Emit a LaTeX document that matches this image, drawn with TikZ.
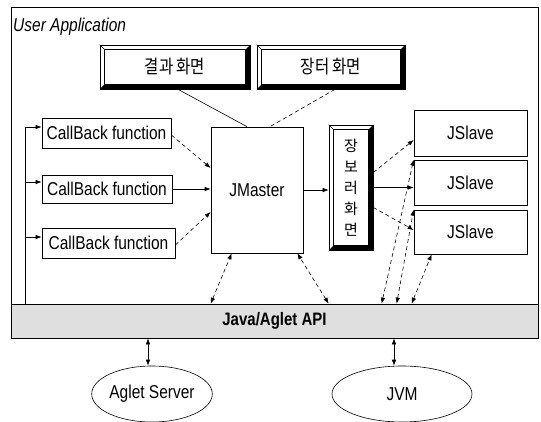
\documentclass[tikz,border=0pt]{standalone}
\usepackage{fontspec}
\setmainfont{Liberation Sans}
\newfontfamily\kr{Noto Sans CJK KR}
\usepackage{graphicx}
\usetikzlibrary{arrows.meta,shapes.geometric}
\newcommand\st[1]{\scalebox{1}[1.2]{#1}}
\newcommand\bevelbox[1]{%
  \fill (#1.south west) -- (#1.south east) -- (#1.north east)
    -- ([xshift=-5pt,yshift=-5pt]#1.north east)
    -- ([xshift=-5pt,yshift=5pt]#1.south east)
    -- ([xshift=5pt,yshift=5pt]#1.south west) -- cycle;
  \draw[line width=0.6pt] ([xshift=5pt,yshift=5pt]#1.south west) rectangle ([xshift=-5pt,yshift=-5pt]#1.north east);
  \draw[line width=0.6pt] (#1.north west) -- ([xshift=5pt,yshift=-5pt]#1.north west);
}
\tikzset{
  bx/.style={draw, line width=0.7pt, inner sep=0pt, font=\fontsize{15.5}{18}\selectfont},
  con/.style={line width=0.6pt},
  dsh/.style={con, dash pattern=on 4pt off 3pt},
  arr/.style={-{Latex[length=6pt,width=4.5pt]}},
  darr/.style={{Latex[length=6pt,width=4.5pt]}-{Latex[length=6pt,width=4.5pt]}},
  ell/.style={draw, ellipse, line width=0.6pt, inner sep=0pt, font=\fontsize{15.5}{18}\selectfont}
}
\begin{document}
\begin{tikzpicture}[x=1pt,y=-1pt]
\useasboundingbox (0,0) rectangle (541,422);
% outer frame
\node[draw, line width=0.7pt, minimum width=527pt, minimum height=297pt, inner sep=0pt] (app) at (274.5,155.5) {};
\node[anchor=west, inner sep=0pt, font=\fontsize{15.5}{18}\selectfont\itshape] (title) at (13,27) {\st{User Application}};
% top screens
\node[bx, minimum width=150pt, minimum height=44pt] (res) at (175,67) {\kr\st{결과 화면}};
\node[bx, minimum width=148pt, minimum height=44pt] (mkt) at (331,67) {\kr\st{장터 화면}};
\bevelbox{res}
\bevelbox{mkt}
% callbacks
\node[bx, minimum width=129pt, minimum height=30pt] (cb1) at (106.5,133) {\st{CallBack function}};
\node[bx, minimum width=130pt, minimum height=28pt] (cb2) at (107,189) {\st{CallBack function}};
\node[bx, minimum width=133pt, minimum height=30pt] (cb3) at (108.5,243) {\st{CallBack function}};
% master
\node[bx, minimum width=92pt, minimum height=126pt] (jm) at (257,190) {\st{JMaster}};
% shopping screen
\node[bx, minimum width=44pt, minimum height=125pt, align=center, font=\kr\fontsize{15}{21}\selectfont] (shop) at (351,187.5) {장\\보\\러\\화\\면};
\bevelbox{shop}
% slaves
\node[bx, minimum width=113pt, minimum height=46pt] (js1) at (470.5,133) {\st{JSlave}};
\node[bx, minimum width=113pt, minimum height=45pt] (js2) at (470.5,182.5) {\st{JSlave}};
\node[bx, minimum width=113pt, minimum height=44pt] (js3) at (470.5,232) {\st{JSlave}};
% API bar
\node[bx, fill=gray!25, minimum width=527pt, minimum height=34pt, font=\fontsize{15}{18}\selectfont\bfseries] (bar) at (274.5,321) {\st{Java/Aglet API}};
% ellipses
\node[ell, minimum width=120pt, minimum height=56pt] (as) at (152,394) {\st{Aglet Server}};
\node[ell, minimum width=140pt, minimum height=56pt] (jvm) at (402,394) {\st{JVM}};

% spine with branches
\coordinate (sp1) at (25,127);
\coordinate (sp2) at (25,182);
\coordinate (sp3) at (25,237);
\draw[con] (sp1) -- (sp1 |- bar.north);
\draw[con, arr] (sp1) -- (sp1 -| cb1.west);
\draw[con, arr] (sp2) -- (sp2 -| cb2.west);
\draw[con, arr] (sp3) -- (sp3 -| cb3.west);

% screens to master
\draw[con] ([xshift=3pt]res.south) -- ([xshift=-10pt]jm.north);
\draw[dsh] ([xshift=4pt]mkt.south) -- ([xshift=13pt]jm.north);
% callbacks to master
\draw[dsh, arr] ([yshift=-2pt]cb1.east) -- ([yshift=22pt]jm.west);
\draw[con, arr] (cb2.east) -- (cb2.east -| jm.west);
\draw[dsh, arr] ([yshift=-2pt]cb3.east) -- ([yshift=-22pt]jm.west);
% master to shop
\draw[con, arr] (jm.east) -- (jm.east -| shop.west);
% shop to slaves
\draw[dsh, arr] ([yshift=15pt]shop.east) -- ([yshift=-7pt]js1.west);
\draw[con, arr] (shop.east) -- (shop.east -| js2.west);
\draw[dsh, arr] ([yshift=-20pt]shop.east) -- ([yshift=2pt]js3.west);
% bar to boxes
\draw[dsh, darr] (jm.south west |- bar.north) -- ([xshift=21pt]jm.south west);
\draw[dsh, darr] (shop.west |- bar.north) -- ([xshift=-6pt]jm.south east);
\draw[dsh, darr] ([xshift=-32pt]js2.north west |- bar.north) -- (js2.north west);
\draw[dsh, darr] ([xshift=-17pt]js3.north west |- bar.north) -- (js3.north west);
\draw[dsh, darr] ([xshift=-2pt]js3.south west |- bar.north) -- ([xshift=18pt]js3.south west);
% bar to servers
\draw[con, darr] ([xshift=-4pt]as.north |- bar.south) -- ([xshift=-4pt]as.north);
\draw[con, darr] ([xshift=-8pt]jvm.north |- bar.south) -- ([xshift=-8pt]jvm.north);
\end{tikzpicture}
\end{document}
